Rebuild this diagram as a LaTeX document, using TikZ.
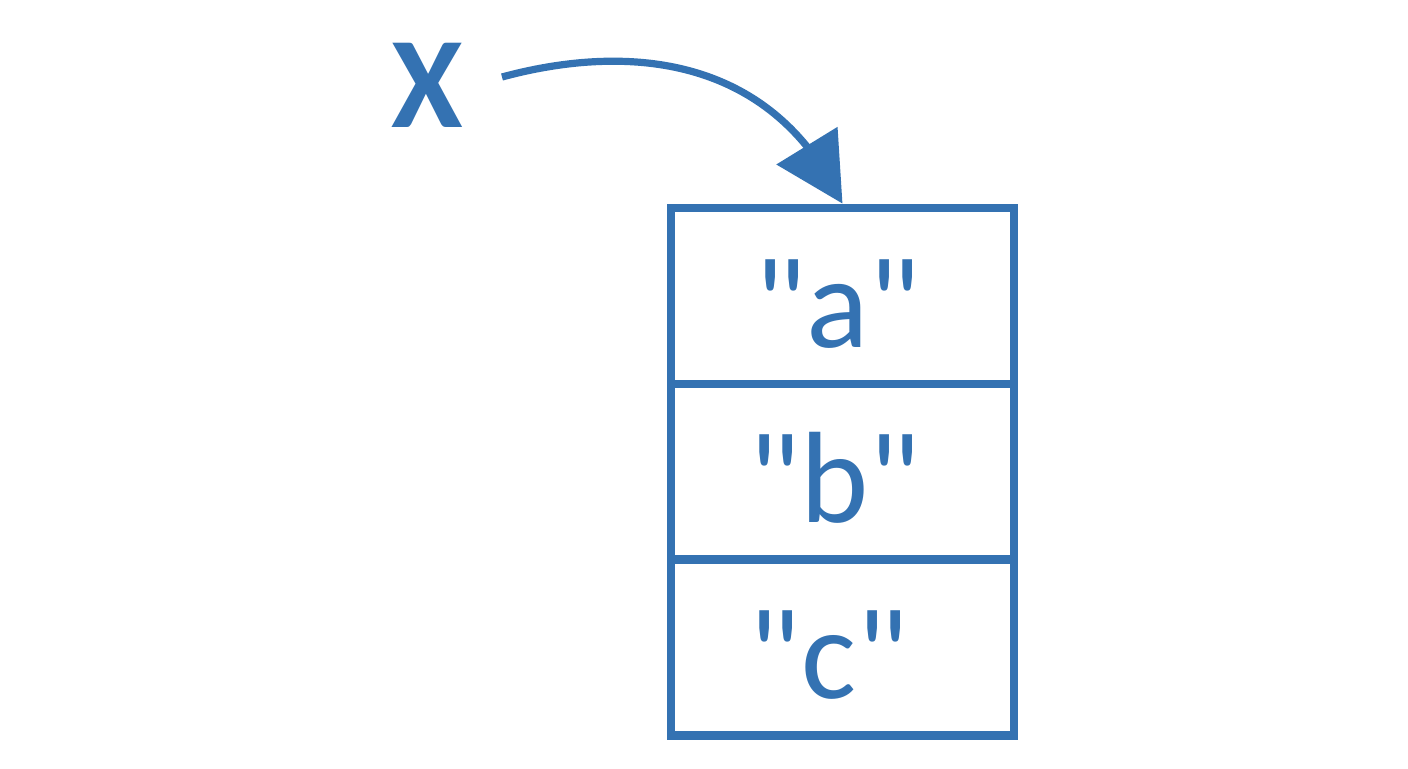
\documentclass[tikz,border=0pt]{standalone}
\usepackage{fontspec}
\newfontfamily\cf{Carlito}
\usetikzlibrary{arrows.meta,bending}
\definecolor{blu}{RGB}{52,114,178}
\begin{document}
\begin{tikzpicture}[x=0.5pt,y=-0.5pt,
  cell/.style={draw=blu,line width=4.4pt,minimum width=171.5pt,minimum height=88pt,inner sep=0pt},
  lbl/.style={text=blu,font=\cf\fontsize{65}{78}\selectfont,inner sep=0pt},
  conn/.style={draw=blu,line width=3.6pt,-{Triangle[length=34pt,width=35pt]}}]
\useasboundingbox[fill=white] (0,0) rectangle (1408,768);
\node[cell] (c1) at (842.5,296) {};
\node[cell] (c2) at (842.5,472) {};
\node[cell] (c3) at (842.5,647.75) {};
\node[lbl,anchor=base] (ta) at (837.5,347) {"a"};
\node[lbl,anchor=base] (tb) at (834.5,522) {"b"};
\node[lbl,anchor=base] (tc) at (828.5,698) {"c"};
\node[lbl,font=\cf\bfseries\fontsize{65}{78}\selectfont] (x) at (427.5,85) {X};
\coordinate (s) at (502,77);
\draw[conn] (s) .. controls (620,45) and (770,50) .. (c1.north);
\end{tikzpicture}
\end{document}
